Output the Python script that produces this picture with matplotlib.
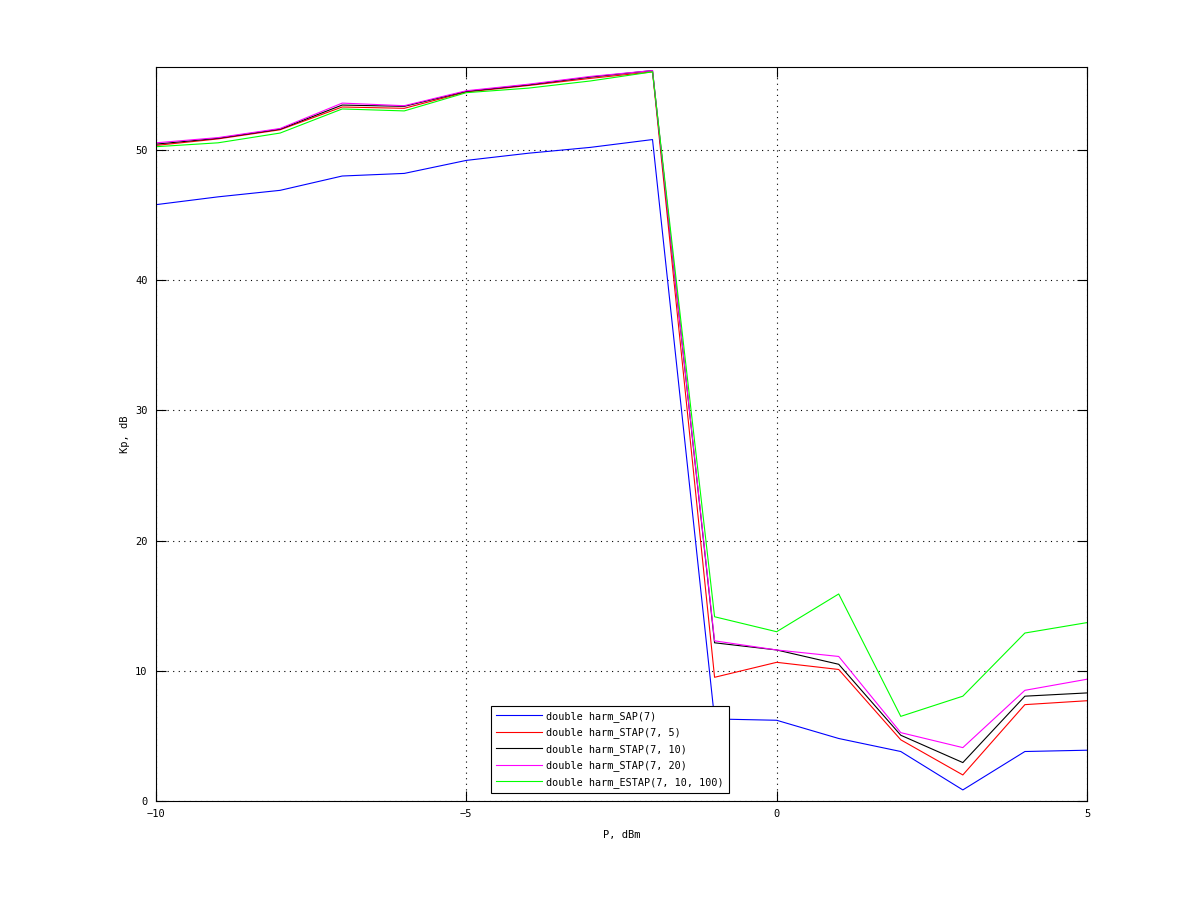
import matplotlib
matplotlib.use('Agg')
import matplotlib.pyplot as plt

plt.rcParams['font.family'] = 'DejaVu Sans Mono'

# Input power, dBm
p_dbm = [-10, -9, -8, -7, -6, -5, -4, -3, -2, -1, 0, 1, 2, 3, 4, 5]

# Kp, dB for each configuration
kp_sap7 = [45.8, 46.4, 46.9, 48.0, 48.2, 49.2, 49.75, 50.2, 50.8,
           6.3, 6.2, 4.8, 3.8, 0.85, 3.8, 3.9]
kp_stap7_5 = [50.35, 50.85, 51.55, 53.3, 53.2, 54.45, 54.95, 55.5, 56.0,
              9.5, 10.65, 10.1, 4.7, 2.0, 7.4, 7.7]
kp_stap7_10 = [50.45, 50.9, 51.6, 53.45, 53.35, 54.5, 55.0, 55.6, 56.1,
               12.15, 11.6, 10.5, 5.05, 2.95, 8.05, 8.3]
kp_stap7_20 = [50.55, 50.95, 51.65, 53.6, 53.4, 54.55, 55.05, 55.65, 56.1,
               12.3, 11.6, 11.1, 5.25, 4.1, 8.5, 9.35]
kp_estap = [50.25, 50.55, 51.3, 53.15, 53.0, 54.4, 54.75, 55.3, 56.0,
            14.15, 13.0, 15.9, 6.5, 8.05, 12.9, 13.7]

labels = ['double harm_SAP(7)',
          'double harm_STAP(7, 5)',
          'double harm_STAP(7, 10)',
          'double harm_STAP(7, 20)',
          'double harm_ESTAP(7, 10, 100)']

###############################################################################

fig = plt.figure(figsize=(12, 9.01), dpi=100)
ax = fig.add_axes([0.13, 0.111, 0.7758, 0.8146])

series = [kp_sap7, kp_stap7_5, kp_stap7_10, kp_stap7_20, kp_estap]
colors = ['#0000ff', '#ff0000', '#000000', '#ff00ff', '#00ff00']
for ys, col, lab in zip(series, colors, labels):
    ax.plot(p_dbm, ys, color=col, linewidth=0.8, label=lab)

ax.set_xlim(-10, 5)
ax.set_ylim(0, 56.37)
ax.set_xticks([-10, -5, 0, 5])
ax.set_yticks([0, 10, 20, 30, 40, 50])

# Dotted grid and inward ticks on all sides, octave style
ax.grid(True, linestyle=(0, (1, 4)), color='k', linewidth=0.8)
ax.tick_params(direction='in', top=True, right=True, length=7,
               labelsize=7.5, pad=6)
for sp in ax.spines.values():
    sp.set_linewidth(0.8)

ax.set_xlabel('P, dBm', fontsize=7.5, labelpad=8)
ax.set_ylabel('Kp, dB', fontsize=7.5, labelpad=4)

leg = ax.legend(loc='lower left', bbox_to_anchor=(0.36, 0.011),
                fontsize=7.3, fancybox=False, framealpha=1,
                edgecolor='k', handlelength=4.5, handletextpad=0.4,
                borderaxespad=0, labelspacing=0.55, borderpad=0.5)
leg.get_frame().set_linewidth(0.8)

plt.savefig('out.png', dpi=100)
